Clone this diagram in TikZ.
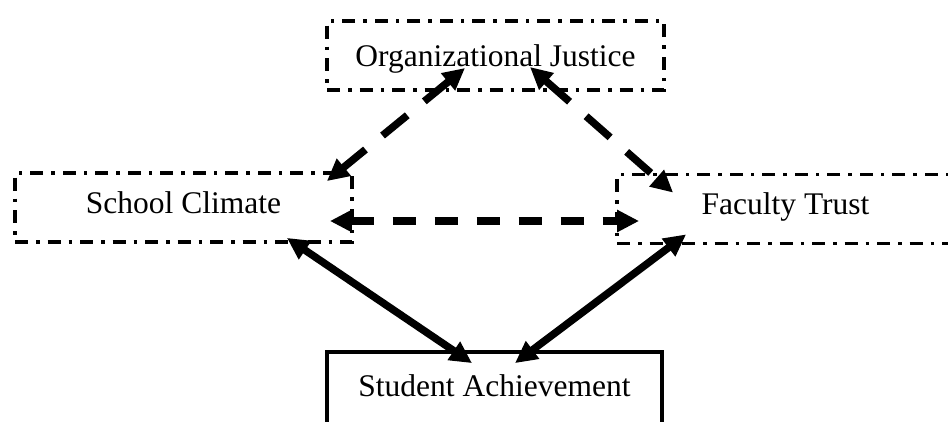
\documentclass[tikz,border=0pt]{standalone}
\usepackage{fontspec}
\setmainfont{Liberation Serif}
\usetikzlibrary{arrows.meta}
\begin{document}
\begin{tikzpicture}[x=1pt,y=-1pt,
  concept/.style={rectangle, draw=black, line width=3.8pt, inner sep=0pt,
    minimum width=337pt, minimum height=69pt, text height=21pt, text depth=0pt,
    font=\fontsize{31.5}{38}\selectfont},
  dashdot/.style={dash pattern=on 13pt off 8pt on 3.5pt off 8pt},
  link/.style={line width=7.5pt, {Triangle[length=22pt,width=21pt]}-{Triangle[length=22pt,width=21pt]}},
  latent/.style={link, dash pattern=on 32pt off 22pt},
  flat/.style={link, dash pattern=on 23pt off 19pt}]
  \clip (0,0) rectangle (948,421);
  \fill[white] (0,0) rectangle (948,421);

  % construct boxes
  \node[concept, dashdot] (oj) at (495.5,55.5) {Organizational Justice};
  \node[concept, dashdot, text depth=10pt] (sc) at (183.5,207.5) {School Climate};
  \node[concept, dashdot, text depth=11pt] (ft) at (785.5,209) {Faculty Trust};
  \node[concept, minimum width=335pt, minimum height=72pt, text depth=4pt] (sa) at (494.5,388) {Student Achievement};

  % dashed relations
  \draw[latent] ([shift={(-30.5,12.5)}]oj.center) -- ([shift={(-27,10)}]sc.north east);
  \draw[latent] ([shift={(34.5,11.5)}]oj.center) -- ([shift={(58,20)}]ft.north west);
  \draw[flat] ([shift={(-24,13.5)}]sc.east) -- ([shift={(24,12)}]ft.west);

  % solid relations
  \draw[link] ([shift={(-67,-6)}]sc.south east) -- ([shift={(-22.5,13)}]sa.north);
  \draw[link] ([shift={(71,-11)}]ft.south west) -- ([shift={(20.5,13)}]sa.north);
\end{tikzpicture}
\end{document}
